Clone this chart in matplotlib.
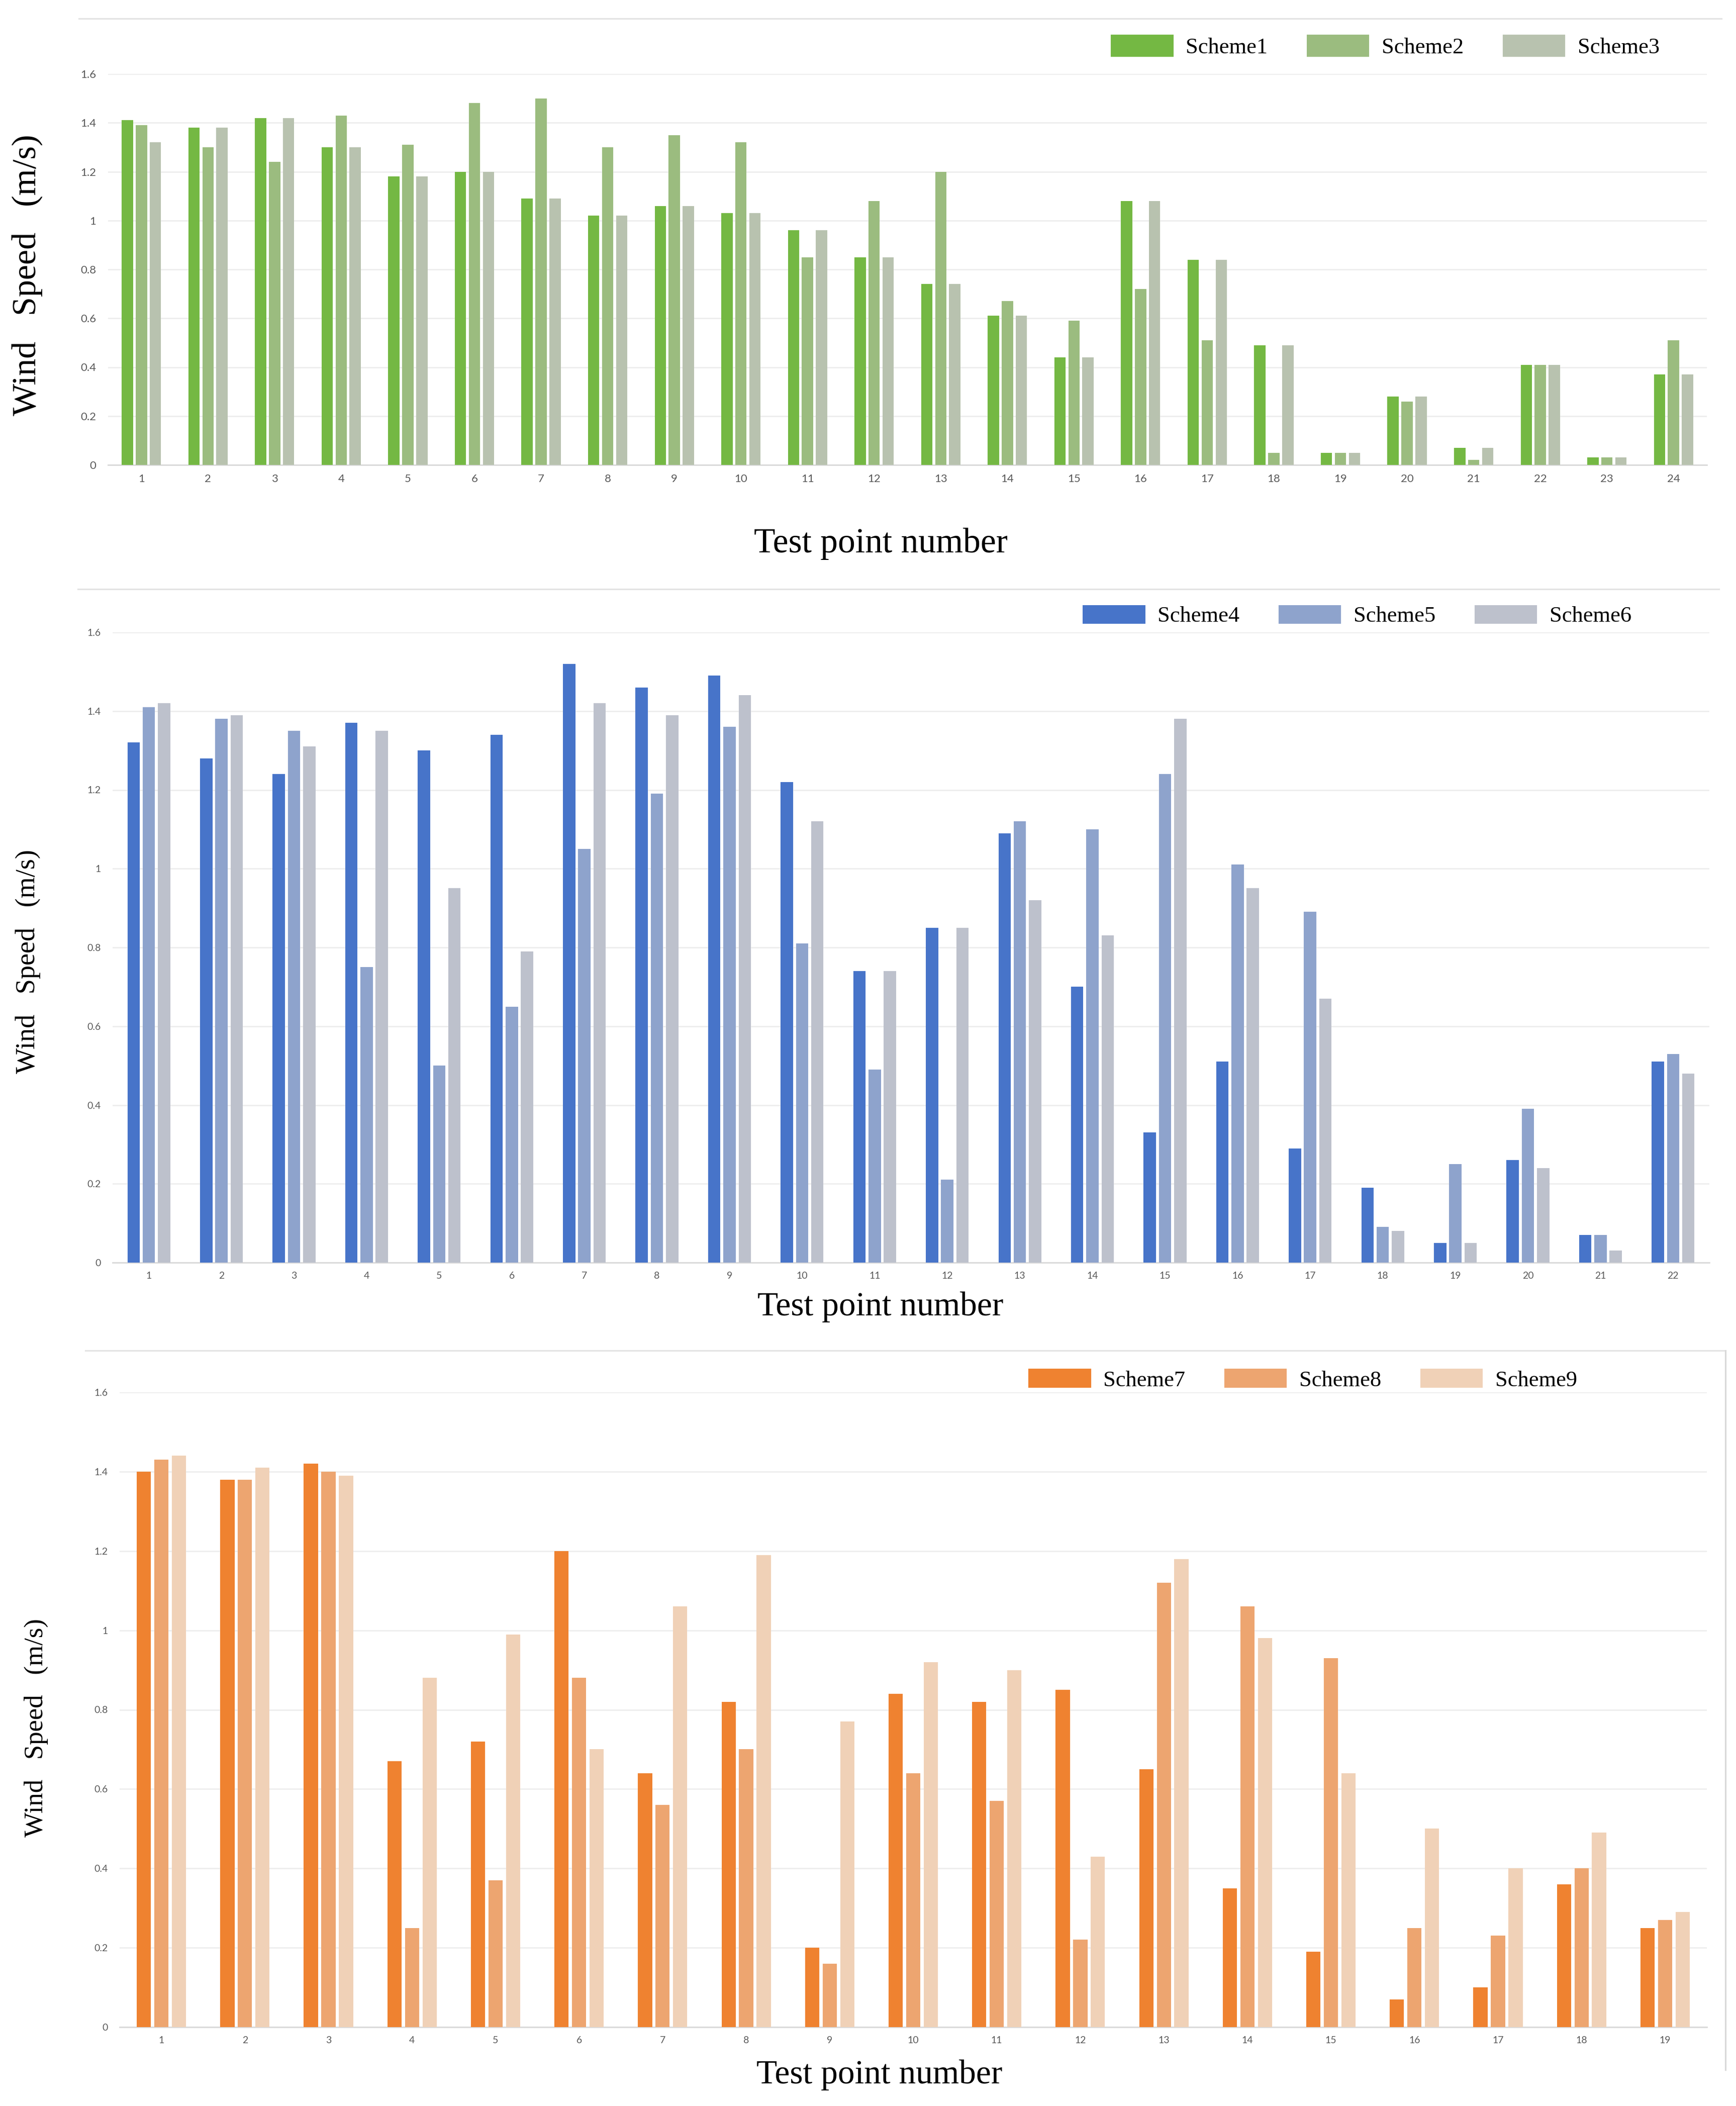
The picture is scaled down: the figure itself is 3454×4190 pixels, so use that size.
"""Wind speed at the test points for nine schemes, three stacked bar panels."""

import matplotlib
matplotlib.use("Agg")
import matplotlib.pyplot as plt
import numpy as np
from matplotlib.lines import Line2D

# --- data ---
points_a = [str(i) for i in range(1, 25)]
scheme1 = [1.41, 1.38, 1.42, 1.30, 1.18, 1.20, 1.09, 1.02, 1.06, 1.03, 0.96, 0.85,
           0.74, 0.61, 0.44, 1.08, 0.84, 0.49, 0.05, 0.28, 0.07, 0.41, 0.03, 0.37]
scheme2 = [1.39, 1.30, 1.24, 1.43, 1.31, 1.48, 1.50, 1.30, 1.35, 1.32, 0.85, 1.08,
           1.20, 0.67, 0.59, 0.72, 0.51, 0.05, 0.05, 0.26, 0.02, 0.41, 0.03, 0.51]
scheme3 = [1.32, 1.38, 1.42, 1.30, 1.18, 1.20, 1.09, 1.02, 1.06, 1.03, 0.96, 0.85,
           0.74, 0.61, 0.44, 1.08, 0.84, 0.49, 0.05, 0.28, 0.07, 0.41, 0.03, 0.37]

points_b = [str(i) for i in range(1, 23)]
scheme4 = [1.32, 1.28, 1.24, 1.37, 1.30, 1.34, 1.52, 1.46, 1.49, 1.22, 0.74, 0.85,
           1.09, 0.70, 0.33, 0.51, 0.29, 0.19, 0.05, 0.26, 0.07, 0.51]
scheme5 = [1.41, 1.38, 1.35, 0.75, 0.50, 0.65, 1.05, 1.19, 1.36, 0.81, 0.49, 0.21,
           1.12, 1.10, 1.24, 1.01, 0.89, 0.09, 0.25, 0.39, 0.07, 0.53]
scheme6 = [1.42, 1.39, 1.31, 1.35, 0.95, 0.79, 1.42, 1.39, 1.44, 1.12, 0.74, 0.85,
           0.92, 0.83, 1.38, 0.95, 0.67, 0.08, 0.05, 0.24, 0.03, 0.48]

points_c = [str(i) for i in range(1, 20)]
scheme7 = [1.40, 1.38, 1.42, 0.67, 0.72, 1.20, 0.64, 0.82, 0.20, 0.84, 0.82, 0.85,
           0.65, 0.35, 0.19, 0.07, 0.10, 0.36, 0.25]
scheme8 = [1.43, 1.38, 1.40, 0.25, 0.37, 0.88, 0.56, 0.70, 0.16, 0.64, 0.57, 0.22,
           1.12, 1.06, 0.93, 0.25, 0.23, 0.40, 0.27]
scheme9 = [1.44, 1.41, 1.39, 0.88, 0.99, 0.70, 1.06, 1.19, 0.77, 0.92, 0.90, 0.43,
           1.18, 0.98, 0.64, 0.50, 0.40, 0.49, 0.29]

y_ticks = [0, 0.2, 0.4, 0.6, 0.8, 1.0, 1.2, 1.4, 1.6]
y_tick_labels = ["0", "0.2", "0.4", "0.6", "0.8", "1", "1.2", "1.4", "1.6"]

W, H = 3455, 4190
SERIF = "Liberation Serif"
TICKFONT = "Lato"


def px(x0, y0, x1, y1):
    """pixel box (top-left origin) -> figure rect"""
    return [x0 / W, 1 - y1 / H, (x1 - x0) / W, (y1 - y0) / H]


def draw_panel(fig, rect, points, series, names, colours, tick_size):
    ax = fig.add_axes(rect)
    x = np.arange(1, len(points) + 1)
    offsets = [-0.21, 0.0, 0.21]
    for vals, name, col, off in zip(series, names, colours, offsets):
        ax.bar(x + off, vals, width=0.17, color=col, label=name, zorder=3)

    ax.set_xlim(0.5, len(points) + 0.5)
    ax.set_ylim(0, 1.6)
    ax.set_yticks(y_ticks)
    ax.set_yticklabels(y_tick_labels)
    ax.set_xticks(x)
    ax.set_xticklabels(points)

    ax.grid(axis="y", color="#ececec", lw=1.8, zorder=0)
    ax.set_axisbelow(True)
    for side in ["top", "right", "left"]:
        ax.spines[side].set_visible(False)
    ax.spines["bottom"].set_color("#d9d9d9")
    ax.spines["bottom"].set_linewidth(2)
    ax.tick_params(axis="both", length=0, labelsize=tick_size, labelcolor="#595959")
    ax.tick_params(axis="y", pad=17)
    ax.tick_params(axis="x", pad=13)
    for lab in ax.get_xticklabels() + ax.get_yticklabels():
        lab.set_fontfamily(TICKFONT)
    return ax


fig = plt.figure(figsize=(W / 100, H / 100), dpi=100)
fig.patch.set_facecolor("white")

panels = [
    dict(box=(215, 147, 3396, 925), points=points_a,
         series=[scheme1, scheme2, scheme3], names=["Scheme1", "Scheme2", "Scheme3"],
         colours=["#74b843", "#9bbc7f", "#b8c2af"], tick=16,
         legend=(2756, 92), hh=1.15,
         xlab=(1752, 1082, 50), ylab=(54, 547, 49)),
    dict(box=(224, 1258, 3401, 2512), points=points_b,
         series=[scheme4, scheme5, scheme6], names=["Scheme4", "Scheme5", "Scheme6"],
         colours=["#4774c9", "#8ea3cc", "#bdc1cc"], tick=14,
         legend=(2700, 1225), hh=0.9,
         xlab=(1752, 2600, 48.5), ylab=(56, 1913, 39)),
    dict(box=(238, 2770, 3396, 4033), points=points_c,
         series=[scheme7, scheme8, scheme9], names=["Scheme7", "Scheme8", "Scheme9"],
         colours=["#ef8230", "#eda570", "#f0d1b7"], tick=14,
         legend=(2592, 2745), hh=0.92,
         xlab=(1750, 4128, 48.5), ylab=(72, 3438, 38)),
]

for p in panels:
    ax = draw_panel(fig, px(*p["box"]), p["points"], p["series"], p["names"],
                    p["colours"], p["tick"])
    handles, labels = ax.get_legend_handles_labels()
    fig.legend(handles, labels, loc="center",
               bbox_to_anchor=(p["legend"][0] / W, 1 - p["legend"][1] / H),
               bbox_transform=fig.transFigure, ncol=3, frameon=False,
               prop={"family": SERIF, "size": 32},
               handlelength=2.8, handleheight=p["hh"], handletextpad=0.55,
               columnspacing=1.75, borderpad=0)
    xl = p["xlab"]
    fig.text(xl[0] / W, 1 - xl[1] / H, "Test point number", family=SERIF,
             fontsize=xl[2], ha="center", va="center", color="black")
    yl = p["ylab"]
    fig.text(yl[0] / W, 1 - yl[1] / H, "Wind   Speed   (m/s)", family=SERIF,
             fontsize=yl[2], rotation=90, ha="center", va="center", color="black")

# thin grey frame lines between the panels
sep = "#e3e3e3"
for (x0, x1, y) in [(157, 3425, 37), (155, 3420, 1172), (170, 3433, 2687)]:
    fig.add_artist(Line2D([x0 / W, x1 / W], [1 - y / H, 1 - y / H],
                          transform=fig.transFigure, color=sep, lw=2.2))
fig.add_artist(Line2D([3433 / W, 3433 / W], [1 - 2687 / H, 1 - 4118 / H],
                      transform=fig.transFigure, color="#d9d9d9", lw=2.2))

fig.savefig("out.png", dpi=100, facecolor="white")
